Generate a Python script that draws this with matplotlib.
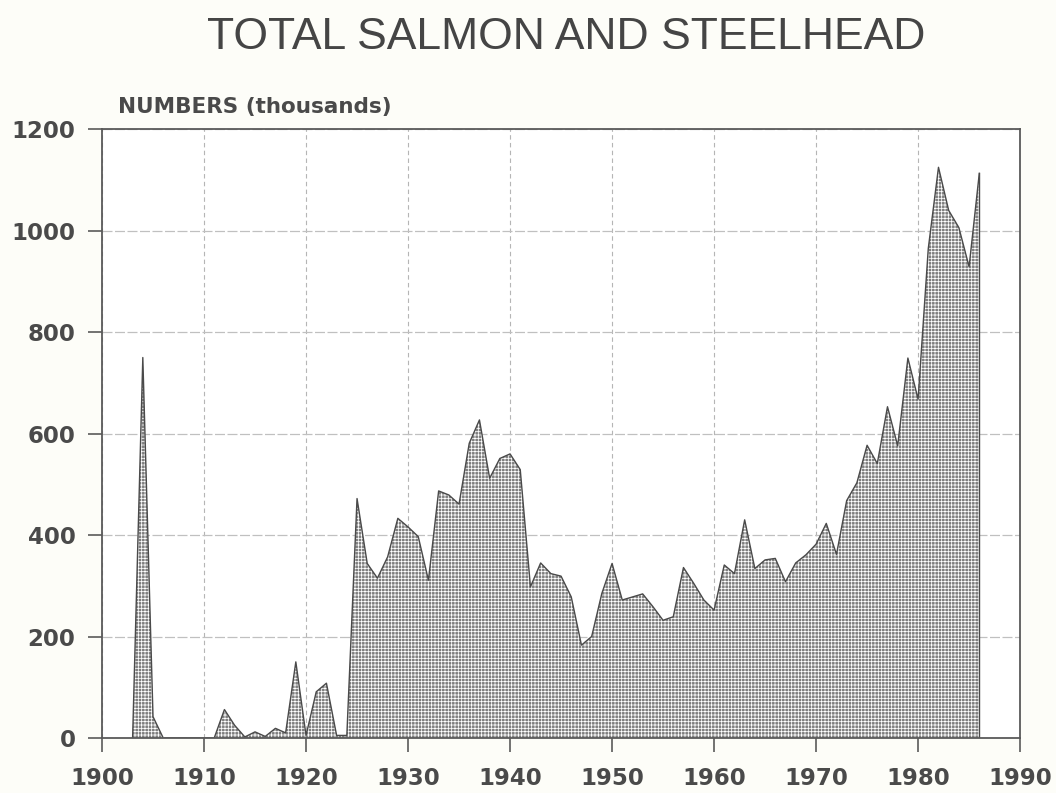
"""Total salmon and steelhead counts, 1903-1986."""

import matplotlib

matplotlib.use("Agg")
import matplotlib.pyplot as plt

years = list(range(1903, 1987))
numbers = [
    0, 750, 42, 0, 0, 0, 0, 0, 0, 56,            # 1903-1912
    25, 2, 12, 3, 19, 10, 150, 5, 91, 108,       # 1913-1922
    5, 5, 472, 344, 315, 357, 433, 416, 397, 311,  # 1923-1932
    487, 479, 461, 581, 627, 512, 551, 560, 529, 298,  # 1933-1942
    345, 324, 319, 278, 183, 200, 285, 344, 272, 278,  # 1943-1952
    284, 259, 232, 239, 336, 305, 272, 252, 341, 324,  # 1953-1962
    430, 334, 351, 354, 308, 345, 361, 382, 423, 362,  # 1963-1972
    468, 503, 577, 541, 653, 576, 749, 668, 965, 1125,  # 1973-1982
    1040, 1006, 929, 1113,                       # 1983-1986
]
x_ticks = list(range(1900, 2000, 10))
y_ticks = list(range(0, 1400, 200))

title = "TOTAL SALMON AND STEELHEAD"
y_label = "NUMBERS (thousands)"

plt.rcParams["hatch.linewidth"] = 0.55

fig = plt.figure(figsize=(10.56, 7.93), dpi=100, facecolor="#fdfdf8")
ax = fig.add_axes([0.0966, 0.0694, 0.8694, 0.7676])
ax.set_facecolor("white")

ax.fill_between(years, numbers, 0, facecolor="#7e7e7e", edgecolor="white",
                linewidth=0, hatch="+++++", zorder=2)
ax.plot(years, numbers, color="#4a4a4a", lw=1.0, zorder=3)
ax.plot([years[-1], years[-1]], [numbers[-1], 0], color="#4a4a4a", lw=1.0, zorder=3)

ax.set_xlim(x_ticks[0], x_ticks[-1])
ax.set_ylim(y_ticks[0], y_ticks[-1])
ax.set_xticks(x_ticks)
ax.set_yticks(y_ticks)
ax.xaxis.grid(True, color="#b5b5b5", lw=0.8, ls=(0, (4, 3)), zorder=1)
ax.yaxis.grid(True, color="#c0c0c0", lw=0.9, ls=(0, (8, 2)), zorder=1)

for sp in ax.spines.values():
    sp.set_color("#5a5a5a")
    sp.set_linewidth(1.3)
    sp.set_zorder(4)

ax.tick_params(axis="both", direction="out", length=10, width=1.2, color="#5a5a5a",
               labelsize=16.5, labelcolor="#4a4a4a")
ax.tick_params(axis="x", pad=11)
ax.tick_params(axis="y", pad=9)
for lab in ax.get_xticklabels() + ax.get_yticklabels():
    lab.set_fontweight("bold")
    lab.set_family("DejaVu Sans")

fig.text(0.536, 0.953, title, ha="center", va="center", fontsize=32,
         family="Liberation Sans", color="#454545")
fig.text(0.1117, 0.8575, y_label, ha="left", va="baseline", fontsize=15.5,
         family="DejaVu Sans", fontweight="bold", color="#4a4a4a")

fig.savefig("out.png", dpi=100, facecolor=fig.get_facecolor())
plt.close(fig)
